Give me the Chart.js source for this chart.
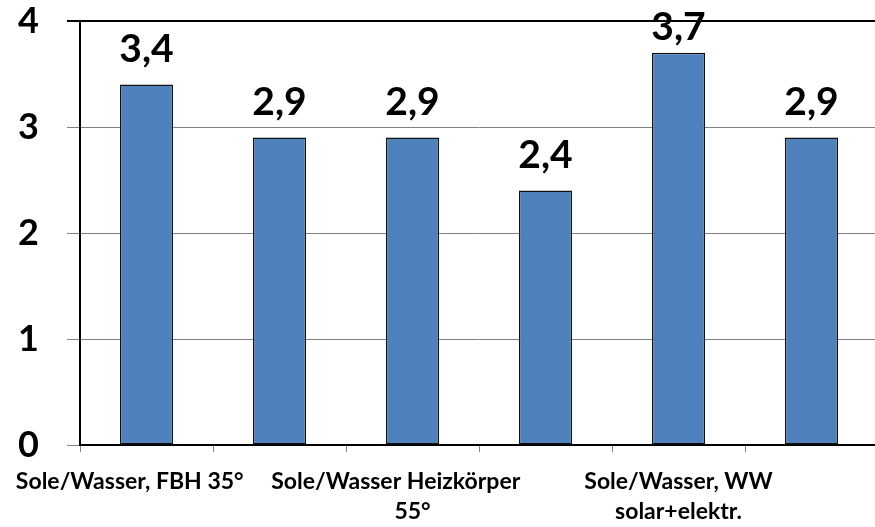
<!DOCTYPE html>
<html>
<head>
<meta charset="utf-8">
<script src="https://cdn.jsdelivr.net/npm/chart.js@4.4.1/dist/chart.umd.min.js"></script>
<style>
  html, body { margin: 0; padding: 0; background: #fff; overflow: hidden; }
  #wrap { width: 878px; height: 527px; position: relative; }
</style>
</head>
<body>
<div id="wrap"><canvas id="c"></canvas></div>
<script>
// Categories (only every second label is shown in the original)
const categories = [
  ["Sole/Wasser, FBH 35°      "],
  "",
  ["Sole/Wasser Heizkörper      ", "55°"],
  "",
  ["Sole/Wasser, WW", "solar+elektr."],
  ""
];
// Series values
const values = [3.4, 2.9, 2.9, 2.4, 3.7, 2.9];
// Y tick values
const yTicks = [0, 1, 2, 3, 4];

const FONT = "Lato, 'Open Sans', 'Liberation Sans', sans-serif";

const valueLabels = {
  id: 'valueLabels',
  afterDatasetsDraw(chart) {
    const ctx = chart.ctx;
    const meta = chart.getDatasetMeta(0);
    ctx.save();
    ctx.font = "bold 39px " + FONT;
    ctx.fillStyle = "#000";
    ctx.textAlign = "center";
    ctx.textBaseline = "alphabetic";
    meta.data.forEach((bar, i) => {
      const v = chart.data.datasets[0].data[i];
      const y = Math.max(bar.y - 23, 40);
      ctx.fillText(v.toFixed(1).replace('.', ','), bar.x, y);
    });
    ctx.restore();
  }
};

new Chart(document.getElementById('c'), {
  type: 'bar',
  data: {
    labels: categories,
    datasets: [{
      data: values,
      backgroundColor: '#4F81BD',
      borderColor: '#111',
      borderWidth: 1.5,
      borderSkipped: false,
      barPercentage: 0.4,
      categoryPercentage: 1.0
    }]
  },
  options: {
    responsive: true,
    maintainAspectRatio: false,
    animation: false,
    layout: { padding: { top: 21, right: 0, left: 0, bottom: 0 } },
    plugins: { legend: { display: false }, tooltip: { enabled: false } },
    scales: {
      x: {
        offset: true,
        grid: {
          drawOnChartArea: false,
          drawTicks: true,
          tickLength: 7,
          color: '#808080',
          offset: true
        },
        border: { display: true, color: '#000', width: 2 },
        ticks: {
          autoSkip: false,
          maxRotation: 0,
          minRotation: 0,
          padding: 15,
          color: '#000',
          font: { family: FONT, size: 23, weight: 'bold', lineHeight: 1.3 }
        },
        afterFit(scale) {
          scale.height = 82;
          scale.paddingLeft = 0;
          scale.paddingRight = 0;
        }
      },
      y: {
        min: 0,
        max: 4,
        afterBuildTicks(scale) { scale.ticks = yTicks.map(v => ({ value: v })); },
        grid: {
          drawTicks: true,
          tickLength: 13,
          color: ctx => (ctx.tick && ctx.tick.value === 4) ? '#000' : '#808080',
          lineWidth: ctx => (ctx.tick && ctx.tick.value === 4) ? 2 : 1
        },
        border: { display: true, color: '#000', width: 2 },
        ticks: {
          padding: 28,
          color: '#000',
          font: { family: FONT, size: 36, weight: 'bold' }
        },
        afterFit(scale) {
          scale.width = 80;
          scale.paddingTop = 0;
          scale.paddingBottom = 0;
        }
      }
    }
  },
  plugins: [valueLabels]
});
</script>
</body>
</html>
